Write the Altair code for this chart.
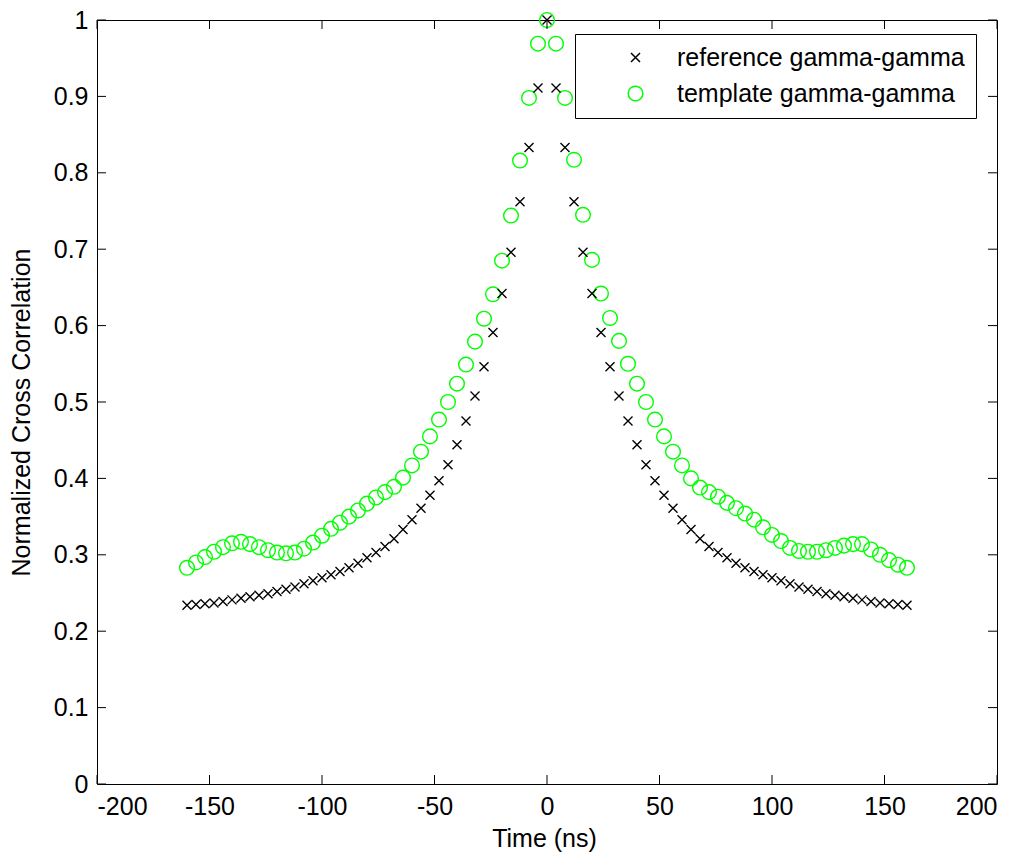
import altair as alt
import pandas as pd

# ---- data ----
time_ns = list(range(-160, 161, 4))

ref_gamma = [
    0.234, 0.235, 0.236, 0.237, 0.239, 0.241, 0.243, 0.245, 0.247, 0.249,
    0.252, 0.255, 0.258, 0.262, 0.266, 0.270, 0.274, 0.278, 0.283, 0.289,
    0.296, 0.303, 0.311, 0.321, 0.333, 0.346, 0.361, 0.378, 0.397, 0.418,
    0.444, 0.475, 0.508, 0.546, 0.591, 0.642, 0.696, 0.762, 0.833, 0.911,
    1.000,
    0.911, 0.833, 0.762, 0.696, 0.642, 0.591, 0.546, 0.508, 0.475, 0.444,
    0.418, 0.397, 0.378, 0.361, 0.346, 0.333, 0.321, 0.311, 0.303, 0.296,
    0.289, 0.283, 0.278, 0.274, 0.270, 0.266, 0.262, 0.258, 0.255, 0.252,
    0.249, 0.247, 0.245, 0.243, 0.241, 0.239, 0.237, 0.236, 0.235, 0.234,
]

tpl_gamma = [
    0.283, 0.290, 0.297, 0.304, 0.310, 0.315, 0.317, 0.314, 0.310, 0.306,
    0.303, 0.302, 0.303, 0.308, 0.316, 0.325, 0.334, 0.342, 0.350, 0.358,
    0.367, 0.375, 0.382, 0.389, 0.401, 0.417, 0.435, 0.455, 0.477, 0.500,
    0.524, 0.549, 0.579, 0.609, 0.641, 0.685, 0.744, 0.816, 0.898, 0.969,
    1.000,
    0.969, 0.898, 0.817, 0.745, 0.686, 0.642, 0.610, 0.580, 0.550, 0.524,
    0.500, 0.477, 0.455, 0.435, 0.417, 0.400, 0.388, 0.382, 0.376, 0.368,
    0.361, 0.354, 0.346, 0.336, 0.326, 0.318, 0.309, 0.305, 0.304, 0.304,
    0.306, 0.309, 0.312, 0.314, 0.314, 0.307, 0.300, 0.293, 0.287, 0.283,
]

series_names = ["reference gamma-gamma", "template gamma-gamma"]
x_ticks = [-200, -150, -100, -50, 0, 50, 100, 150, 200]
y_ticks = [0, 0.1, 0.2, 0.3, 0.4, 0.5, 0.6, 0.7, 0.8, 0.9, 1]

# ---- tables ----
n = len(time_ns)
df = pd.DataFrame({
    "t": time_ns + time_ns,
    "v": tpl_gamma + ref_gamma,
    "series": [series_names[1]] * n + [series_names[0]] * n,
})
xt_df = pd.DataFrame({"t": x_ticks})
yt_df = pd.DataFrame({"v": y_ticks})

W, H = 900, 764
FONT = "Liberation Sans"
X_PATH = "M-1,-1L1,1M-1,1L1,-1"

xscale = alt.Scale(domain=[-200, 200], nice=False, zero=False)
yscale = alt.Scale(domain=[0, 1], nice=False, zero=False)

x_axis = alt.Axis(
    values=x_ticks, ticks=False, domain=False, grid=False,
    labelPadding=10, labelExpr="'' + datum.value",
    title="Time (ns)", titleX=447, titleY=62, titleBaseline="alphabetic")
y_axis = alt.Axis(
    values=y_ticks, ticks=False, domain=False, grid=False,
    labelPadding=9, labelExpr="'' + datum.value",
    title="Normalized Cross Correlation", titleX=-68, titleY=392,
    titleBaseline="alphabetic", titleAngle=270)

legend = alt.Legend(
    title=None, orient="none", legendX=478, legendY=14,
    strokeColor="black", fillColor="white", padding=11,
    labelFont=FONT, labelFontSize=25, labelColor="black", labelLimit=500,
    symbolOffset=37, labelOffset=29, rowPadding=10,
    symbolStrokeWidth=1.5,
)

points = alt.Chart(df).mark_point(filled=False, opacity=1, strokeWidth=1.4).encode(
    x=alt.X("t:Q", scale=xscale, axis=x_axis),
    y=alt.Y("v:Q", scale=yscale, axis=y_axis),
    color=alt.Color("series:N", scale=alt.Scale(domain=series_names, range=["#000000", "#00ff00"]), legend=legend),
    shape=alt.Shape("series:N", scale=alt.Scale(domain=series_names, range=[X_PATH, "circle"]), legend=legend),
    size=alt.Size("series:N", scale=alt.Scale(domain=series_names, range=[81, 215]), legend=legend),
)

bottom_ticks = alt.Chart(xt_df).mark_rule(color="black", strokeWidth=1).encode(
    x=alt.X("t:Q", scale=xscale, axis=x_axis), y=alt.value(H), y2=alt.value(H - 9))
top_ticks = alt.Chart(xt_df).mark_rule(color="black", strokeWidth=1).encode(
    x=alt.X("t:Q", scale=xscale, axis=x_axis), y=alt.value(0), y2=alt.value(9))
left_ticks = alt.Chart(yt_df).mark_rule(color="black", strokeWidth=1).encode(
    y=alt.Y("v:Q", scale=yscale, axis=y_axis), x=alt.value(0), x2=alt.value(9))
right_ticks = alt.Chart(yt_df).mark_rule(color="black", strokeWidth=1).encode(
    y=alt.Y("v:Q", scale=yscale, axis=y_axis), x=alt.value(W), x2=alt.value(W - 9))

chart = alt.layer(points, bottom_ticks, top_ticks, left_ticks, right_ticks).properties(
    width=W, height=H,
    autosize=alt.AutoSizeParams(type="none"),
    padding={"left": 97, "top": 20, "right": 28, "bottom": 77},
    background="white",
).configure_view(
    stroke="black", strokeWidth=1,
).configure_axis(
    labelFont=FONT, labelFontSize=25, labelColor="black",
    titleFont=FONT, titleFontSize=25, titleColor="black", titleFontWeight="normal",
)

chart.save("out.html", embed_options={"renderer": "svg", "actions": False})
